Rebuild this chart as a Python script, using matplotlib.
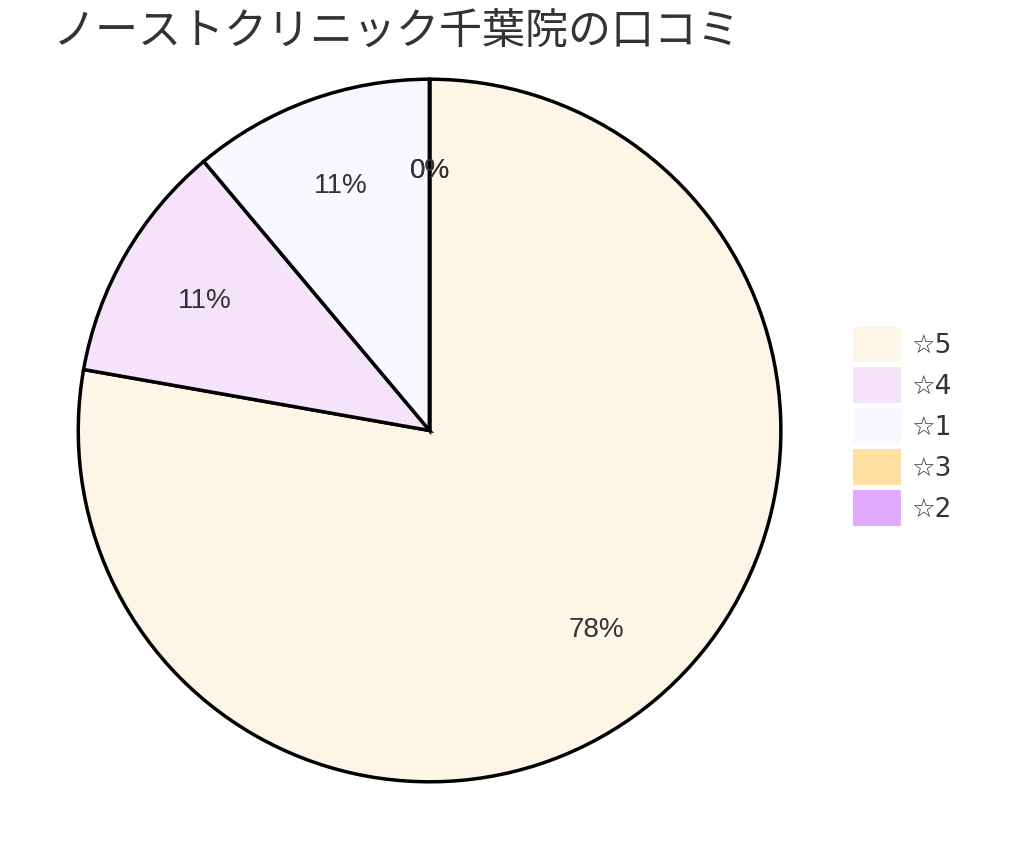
import matplotlib
matplotlib.use("Agg")
import matplotlib.pyplot as plt
from matplotlib.patches import Patch

labels = ["☆5", "☆4", "☆1", "☆3", "☆2"]
values = [7, 1, 1, 0, 0]
colors = ["#fdf5e6", "#f5e3fc", "#f9f7ff", "#ffe0a3", "#e0aaff"]

plt.rcParams['font.family'] = ['Liberation Sans', 'Noto Sans CJK JP', 'DejaVu Sans']
fig = plt.figure(figsize=(10.24, 8.61), dpi=100)
ax = fig.add_axes([0.073, 0.0875, 0.693, 0.825])
wedges, texts, autotexts = ax.pie(values, colors=colors, startangle=90, counterclock=False,
       autopct=lambda p: f"{p:.0f}%", pctdistance=0.74,
       wedgeprops=dict(edgecolor="black", linewidth=2.5),
       textprops=dict(fontsize=20, color="#333333"))
ax.set_xlim(-1.01, 1.01)
ax.set_ylim(-1.01, 1.01)
ax.set_aspect("equal")
fig.text(0.052, 0.962, "ノーストクリニック千葉院の口コミ", fontsize=31, color="#333333", va="center",
         family=['Noto Sans CJK JP', 'DejaVu Sans'])
handles = [Patch(facecolor=c, edgecolor="none") for c in colors]
fig.legend(handles, labels, loc="center left", bbox_to_anchor=(0.81, 0.505), frameon=False,
           fontsize=19, handlelength=1.8, handleheight=1.7, labelspacing=0.2, handletextpad=0.4,
           labelcolor="#333333", prop={'family': ['DejaVu Sans'], 'size': 19})
fig.savefig("out.png")
